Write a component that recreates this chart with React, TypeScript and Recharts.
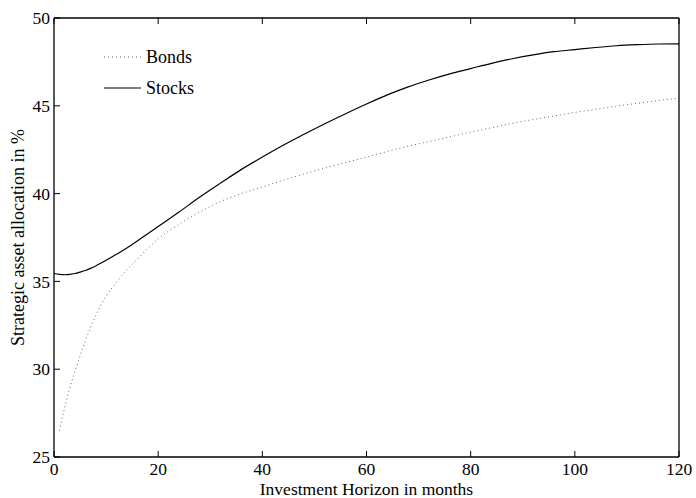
import React from 'react';
import { LineChart, Line, XAxis, YAxis, Legend } from 'recharts';

// Investment horizon in months
const months = [0, 1, 2, 3, 4, 5, 6, 7, 8, 10, 12, 14, 16, 18, 20, 24, 28, 32, 36, 40, 44, 48, 52, 56, 60, 64, 68, 72, 76, 80, 84, 88, 92, 96, 100, 104, 108, 112, 116, 120];

// Strategic allocation to stocks, in %
const stocks = [35.45, 35.4, 35.38, 35.4, 35.45, 35.53, 35.62, 35.74, 35.88, 36.2, 36.55, 36.9, 37.3, 37.72, 38.12, 38.95, 39.8, 40.6, 41.38, 42.08, 42.75, 43.38, 43.98, 44.55, 45.1, 45.62, 46.08, 46.47, 46.82, 47.12, 47.42, 47.68, 47.9, 48.08, 48.2, 48.32, 48.42, 48.48, 48.52, 48.53];

// Strategic allocation to bonds, in % (series begins at month 1)
const bonds = [null, 26.5, 27.75, 28.9, 29.85, 30.75, 31.6, 32.35, 33.05, 34.15, 34.95, 35.65, 36.27, 36.87, 37.42, 38.25, 38.95, 39.55, 40.0, 40.38, 40.76, 41.12, 41.45, 41.77, 42.08, 42.4, 42.7, 42.96, 43.23, 43.5, 43.75, 44.0, 44.22, 44.42, 44.62, 44.8, 44.98, 45.14, 45.3, 45.43];

const xTicks = [0, 20, 40, 60, 80, 100, 120];
const yTicks = [25, 30, 35, 40, 45, 50];
const seriesNames = ['Bonds', 'Stocks'];

const data = months.map((m, i) => ({ month: m, bonds: bonds[i], stocks: stocks[i] }));

const FONT = '"Liberation Serif", "Times New Roman", serif';
const tickStyle = { fontFamily: FONT, fontSize: 17.5, fill: '#000' };
const axisLine = { stroke: '#000', strokeWidth: 1.3 };
const tickLine = { stroke: '#000', strokeWidth: 1 };

const NoTick = () => <g />;

const LegendBox = () => (
  <svg width={140} height={70} style={{ display: 'block' }}>
    <line x1={4} x2={41} y1={17} y2={17} stroke="#666" strokeWidth={1} strokeDasharray="1 3" />
    <text x={46} y={23} fontFamily={FONT} fontSize={18} fill="#000">{seriesNames[0]}</text>
    <line x1={4} x2={41} y1={48} y2={48} stroke="#000" strokeWidth={1.2} />
    <text x={46} y={54} fontFamily={FONT} fontSize={18} fill="#000">{seriesNames[1]}</text>
  </svg>
);

const YTitle = (props: any) => {
  const vb = props.viewBox || { y: 18, height: 439 };
  const cy = vb.y + vb.height / 2;
  return (
    <text
      x={24}
      y={cy}
      transform={`rotate(-90, 24, ${cy})`}
      textAnchor="middle"
      fontFamily={FONT}
      fontSize={18}
      fill="#000"
    >
      Strategic asset allocation in %
    </text>
  );
};

const XTitle = (props: any) => {
  const vb = props.viewBox || { x: 54, width: 625 };
  const cx = vb.x + vb.width / 2;
  return (
    <text x={cx} y={495} textAnchor="middle" fontFamily={FONT} fontSize={17.5} fill="#000">
      Investment Horizon in months
    </text>
  );
};

export default function App() {
  return (
    <div style={{ position: 'absolute', left: 0, top: 0, background: '#fff' }}>
      <LineChart
        width={696}
        height={498}
        data={data}
        margin={{ top: 17, right: 16, left: 0, bottom: 0 }}
      >
        <XAxis
          xAxisId="bottom"
          dataKey="month"
          type="number"
          domain={[0, 120]}
          ticks={xTicks}
          orientation="bottom"
          height={41}
          tickSize={-6}
          tickMargin={12}
          axisLine={axisLine}
          tickLine={tickLine}
          tick={tickStyle}
          interval={0}
          label={<XTitle />}
        />
        <XAxis
          xAxisId="top"
          dataKey="month"
          type="number"
          domain={[0, 120]}
          ticks={xTicks}
          orientation="top"
          height={1}
          tickSize={-6}
          axisLine={axisLine}
          tickLine={tickLine}
          tick={NoTick}
          interval={0}
        />
        <YAxis
          yAxisId="left"
          type="number"
          domain={[25, 50]}
          ticks={yTicks}
          orientation="left"
          width={54}
          tickSize={-6}
          tickMargin={10}
          axisLine={axisLine}
          tickLine={tickLine}
          tick={tickStyle}
          interval={0}
          label={<YTitle />}
        />
        <YAxis
          yAxisId="right"
          type="number"
          domain={[25, 50]}
          ticks={yTicks}
          orientation="right"
          width={1}
          tickSize={-6}
          axisLine={axisLine}
          tickLine={tickLine}
          tick={NoTick}
          interval={0}
        />
        <Legend
          layout="vertical"
          align="center"
          verticalAlign="middle"
          wrapperStyle={{ left: 100, top: 40, width: 140, height: 70 }}
          content={<LegendBox />}
        />
        <Line
          xAxisId="bottom"
          yAxisId="left"
          dataKey="bonds"
          name={seriesNames[0]}
          type="monotone"
          stroke="#666"
          strokeWidth={1}
          strokeDasharray="1 3"
          dot={false}
          connectNulls={false}
          isAnimationActive={false}
        />
        <Line
          xAxisId="bottom"
          yAxisId="left"
          dataKey="stocks"
          name={seriesNames[1]}
          type="monotone"
          stroke="#000"
          strokeWidth={1.2}
          dot={false}
          isAnimationActive={false}
        />
      </LineChart>
    </div>
  );
}
